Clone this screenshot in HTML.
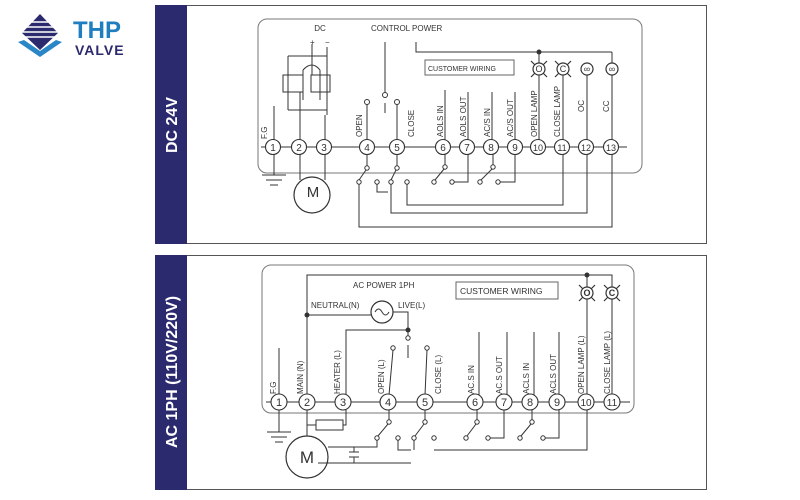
<!DOCTYPE html>
<html><head><meta charset="utf-8"><style>
html,body{margin:0;padding:0;background:#fff;}
svg{display:block;font-family:"Liberation Sans",sans-serif;}
</style></head><body>
<svg width="800" height="500" viewBox="0 0 800 500" xmlns="http://www.w3.org/2000/svg">
<rect width="800" height="500" fill="#fff"/>
<!-- logo -->
<g>
<polygon points="40,14 58,33 40,50 22,33" fill="#2c2a6e"/>
<g stroke="#fff" stroke-width="1.6">
<line x1="28" y1="22" x2="52" y2="22"/><line x1="24" y1="27" x2="56" y2="27"/><line x1="22" y1="32" x2="58" y2="32"/><line x1="24" y1="37" x2="56" y2="37"/>
</g>
<polygon points="18,42 40,57 62,42 56,40 40,51 24,40" fill="#2a86c6"/>
<text x="73" y="38" font-size="24" font-weight="bold" fill="#1f7ec0">THP</text>
<text x="75" y="55" font-size="14" font-weight="bold" fill="#2c2a6e" letter-spacing="1">VALVE</text>
</g>

<g fill="none" stroke="#333" stroke-width="1">
<rect x="155.5" y="5.5" width="551" height="238" stroke="#555"/>
<rect x="258" y="19" width="384" height="154" rx="9" stroke="#777"/>
<rect x="155.5" y="255.5" width="551" height="234" stroke="#555"/>
<rect x="262" y="265" width="372" height="148" rx="9" stroke="#777"/>
</g>
<rect x="155" y="5" width="32" height="239" fill="#2c2a6e"/>
<rect x="155" y="255" width="32" height="235" fill="#2c2a6e"/>
<text transform="translate(177,125) rotate(-90)" text-anchor="middle" font-size="16" font-weight="bold" fill="#fff">DC 24V</text>
<text transform="translate(177,372) rotate(-90)" text-anchor="middle" font-size="16" font-weight="bold" fill="#fff">AC 1PH (110V/220V)</text>

<!-- ===== panel 1 diagram ===== -->
<g fill="none" stroke="#333" stroke-width="1">
<line x1="261" y1="147" x2="627" y2="147"/>
<line x1="274" y1="106" x2="274" y2="140"/>
<line x1="445" y1="90" x2="445" y2="140"/><line x1="468" y1="92" x2="468" y2="140"/>
<line x1="492" y1="92" x2="492" y2="140"/><line x1="515" y1="92" x2="515" y2="140"/>
<line x1="312" y1="44" x2="312" y2="75"/><line x1="327" y1="47" x2="327" y2="115"/>
<line x1="288" y1="56" x2="327" y2="56"/><line x1="288" y1="56" x2="288" y2="110"/>
<rect x="283" y="75" width="20" height="17"/><rect x="311" y="75" width="19" height="17"/>
<line x1="300" y1="92" x2="300" y2="140"/><line x1="288" y1="110" x2="327" y2="110"/>
<path d="M303 70 Q312 60 320 70"/><line x1="320" y1="70" x2="320" y2="100"/><line x1="303" y1="70" x2="303" y2="100"/>
<line x1="325" y1="115" x2="325" y2="140"/>
<line x1="385" y1="42" x2="385" y2="92"/><circle cx="385" cy="95" r="2.5"/><line x1="385" y1="103" x2="385" y2="113"/>
<line x1="367" y1="104" x2="367" y2="140"/><circle cx="367" cy="102" r="2.5"/>
<line x1="397" y1="104" x2="397" y2="140"/><circle cx="397" cy="102" r="2.5"/>
<polyline points="416,42 416,52 612,52"/>
<line x1="539" y1="52" x2="539" y2="63"/><line x1="612" y1="52" x2="612" y2="63"/>
<rect x="425" y="60" width="89" height="15" stroke="#666"/>
<g stroke-width="1.2">
<circle cx="539" cy="69" r="6"/><circle cx="563" cy="69" r="6"/><circle cx="587" cy="69" r="6"/><circle cx="612" cy="69" r="6"/>
<path d="M531 61 L535 65 M547 61 L543 65 M531 77 L535 73 M547 77 L543 73 M555 61 L559 65 M571 61 L567 65 M555 77 L559 73 M571 77 L567 73"/>
</g>
<line x1="539" y1="75" x2="539" y2="140"/><line x1="563" y1="75" x2="563" y2="140"/>
<line x1="587" y1="75" x2="587" y2="140"/><line x1="612" y1="75" x2="612" y2="140"/>
<line x1="274" y1="154" x2="274" y2="175"/>
<line x1="262" y1="175" x2="286" y2="175"/><line x1="266" y1="180" x2="282" y2="180"/><line x1="270" y1="185" x2="278" y2="185"/>
<line x1="300" y1="154" x2="300" y2="180"/><line x1="325" y1="154" x2="325" y2="180"/>
<circle cx="312" cy="195" r="18" stroke-width="1.2"/>
<line x1="367" y1="154" x2="367" y2="166"/><circle cx="367" cy="168" r="2.2"/><line x1="366" y1="170" x2="359" y2="180"/>
<line x1="397" y1="154" x2="397" y2="166"/><circle cx="397" cy="168" r="2.2"/><line x1="396" y1="170" x2="391" y2="180"/>
<circle cx="359" cy="182" r="2.2"/><circle cx="377" cy="182" r="2.2"/><circle cx="391" cy="182" r="2.2"/><circle cx="407" cy="182" r="2.2"/>
<line x1="445" y1="154" x2="445" y2="165"/><circle cx="445" cy="167" r="2.2"/><line x1="444" y1="169" x2="435" y2="180"/><circle cx="434" cy="182" r="2.2"/>
<circle cx="452" cy="182" r="2.2"/><polyline points="454,182 468,182 468,154"/>
<line x1="493" y1="154" x2="493" y2="165"/><circle cx="493" cy="167" r="2.2"/><line x1="492" y1="169" x2="481" y2="180"/><circle cx="480" cy="182" r="2.2"/>
<circle cx="498" cy="182" r="2.2"/><polyline points="500,182 515,182 515,154"/>
<polyline points="377,184 377,192 388,192 Q391,198 394,192 539,192 539,154"/>
<polyline points="407,184 407,205 563,205 563,154"/>
<polyline points="391,184 391,213 587,213 587,154"/>
<polyline points="359,184 359,227 612,227 612,154"/>
</g>
<circle cx="539" cy="52" r="2.5" fill="#333"/>
<g font-size="9" fill="#333" text-anchor="middle">
<text x="539" y="72">O</text><text x="563" y="72">C</text><text x="587" y="72">∞</text><text x="612" y="72">∞</text>
</g>
<g fill="#fff" stroke="#333" stroke-width="1.1">
<circle cx="273" cy="147" r="7.5"/><circle cx="299" cy="147" r="7.5"/><circle cx="324" cy="147" r="7.5"/>
<circle cx="367" cy="147" r="7.5"/><circle cx="397" cy="147" r="7.5"/><circle cx="443" cy="147" r="7.5"/>
<circle cx="467" cy="147" r="7.5"/><circle cx="491" cy="147" r="7.5"/><circle cx="515" cy="147" r="7.5"/>
<circle cx="538" cy="147" r="7.5"/><circle cx="562" cy="147" r="7.5"/><circle cx="586" cy="147" r="7.5"/><circle cx="611" cy="147" r="7.5"/>
</g>
<g font-size="10" fill="#333" text-anchor="middle">
<text x="273" y="151">1</text><text x="299" y="151">2</text><text x="324" y="151">3</text><text x="367" y="151">4</text><text x="397" y="151">5</text><text x="443" y="151">6</text><text x="467" y="151">7</text><text x="491" y="151">8</text><text x="515" y="151">9</text>
<text x="538" y="151" font-size="9">10</text><text x="562" y="151" font-size="9">11</text><text x="586" y="151" font-size="9">12</text><text x="611" y="151" font-size="9">13</text>
<text x="313" y="197" font-size="15">M</text>
</g>
<g font-size="8" fill="#333">
<text x="320" y="31" text-anchor="middle">DC</text>
<text x="371" y="31">CONTROL POWER</text>
<text x="310" y="45" font-size="8">+</text><text x="325" y="45">−</text>
<text x="428" y="71" font-size="7">CUSTOMER WIRING</text>
<text transform="translate(267,139) rotate(-90)">F.G</text>
<text transform="translate(362,137) rotate(-90)">OPEN</text>
<text transform="translate(414,137) rotate(-90)">CLOSE</text>
<text transform="translate(443,137) rotate(-90)">AOLS IN</text>
<text transform="translate(466,137) rotate(-90)">AOLS OUT</text>
<text transform="translate(490,137) rotate(-90)">AC/S IN</text>
<text transform="translate(513,137) rotate(-90)">AC/S OUT</text>
<text transform="translate(537,137) rotate(-90)">OPEN LAMP</text>
<text transform="translate(560,137) rotate(-90)">CLOSE LAMP</text>
<text transform="translate(584,112) rotate(-90)">OC</text>
<text transform="translate(609,112) rotate(-90)">CC</text>
</g>

<!-- ===== panel 2 diagram ===== -->
<g fill="none" stroke="#333" stroke-width="1">
<line x1="266" y1="402" x2="630" y2="402"/>
<line x1="279" y1="348" x2="279" y2="395"/>
<polyline points="307,395 307,275 612,275 612,287"/>
<line x1="587" y1="275" x2="587" y2="287"/>
<circle cx="587" cy="293" r="6" stroke-width="1.2"/><circle cx="612" cy="293" r="6" stroke-width="1.2"/>
<path d="M579 285 L583 289 M595 285 L591 289 M579 301 L583 297 M595 301 L591 297 M604 285 L608 289 M620 285 L616 289 M604 301 L608 297 M620 301 L616 297" stroke-width="1.2"/>
<line x1="587" y1="299" x2="587" y2="395"/><line x1="612" y1="299" x2="612" y2="395"/>
<line x1="307" y1="315" x2="371" y2="315"/>
<circle cx="382" cy="312" r="11" stroke-width="1.2"/>
<path d="M375 312 Q378.5 306 382 312 T389 312"/>
<polyline points="393,312 408,312 408,330"/>
<polyline points="408,330 346,330 346,395"/>
<line x1="408" y1="330" x2="408" y2="336"/><circle cx="408" cy="338" r="2.2"/><line x1="408" y1="345" x2="408" y2="358"/>
<rect x="456" y="282" width="102" height="17" stroke="#666"/>
<circle cx="393" cy="348" r="2.2"/><line x1="393" y1="350" x2="389" y2="395" />
<circle cx="427" cy="348" r="2.2"/><line x1="427" y1="350" x2="425" y2="395"/>
<line x1="479" y1="332" x2="479" y2="395"/><line x1="507" y1="332" x2="507" y2="395"/>
<line x1="534" y1="332" x2="534" y2="395"/><line x1="559" y1="332" x2="559" y2="395"/>
<line x1="279" y1="409" x2="279" y2="432"/>
<line x1="267" y1="432" x2="291" y2="432"/><line x1="271" y1="437" x2="287" y2="437"/><line x1="275" y1="442" x2="283" y2="442"/>
<line x1="307" y1="409" x2="307" y2="436"/>
<polyline points="307,425 316,425"/><rect x="316" y="420" width="27" height="10"/><polyline points="343,425 346,425 346,409"/>
<circle cx="307" cy="457" r="21" stroke-width="1.2"/>
<line x1="389" y1="409" x2="389" y2="420"/><circle cx="389" cy="422" r="2.2"/><line x1="388" y1="424" x2="378" y2="436"/>
<line x1="425" y1="409" x2="425" y2="420"/><circle cx="425" cy="422" r="2.2"/><line x1="424" y1="424" x2="415" y2="436"/>
<circle cx="377" cy="438" r="2.2"/><circle cx="398" cy="438" r="2.2"/><circle cx="414" cy="438" r="2.2"/><circle cx="434" cy="438" r="2.2"/>
<polyline points="328,447 377,447 377,440"/>
<line x1="354" y1="447" x2="354" y2="452"/><line x1="349" y1="452" x2="359" y2="452"/><line x1="349" y1="457" x2="359" y2="457"/><line x1="354" y1="457" x2="354" y2="463"/>
<polyline points="398,440 398,450 411,450 Q414,456 417,450 434,450 434,440"/>
<polyline points="414,440 414,450"/>
<polyline points="434,450 587,450 587,409"/>
<polyline points="318,463 411,463 Q414,469 417,463 431,463 Q434,469 437,463 614,463 614,409"/>
<line x1="477" y1="409" x2="477" y2="420"/><circle cx="477" cy="422" r="2.2"/><line x1="476" y1="424" x2="467" y2="436"/><circle cx="466" cy="438" r="2.2"/>
<circle cx="488" cy="438" r="2.2"/><polyline points="490,438 504,438 504,409"/>
<line x1="532" y1="409" x2="532" y2="420"/><circle cx="532" cy="422" r="2.2"/><line x1="531" y1="424" x2="521" y2="436"/><circle cx="520" cy="438" r="2.2"/>
<circle cx="543" cy="438" r="2.2"/><polyline points="545,438 559,438 559,409"/>
</g>
<g font-size="9" fill="#333" text-anchor="middle" font-weight="bold">
<text x="587" y="296">O</text><text x="612" y="296">C</text>
</g>
<circle cx="587" cy="275" r="2.5" fill="#333"/><circle cx="307" cy="315" r="2.5" fill="#333"/><circle cx="408" cy="330" r="2.5" fill="#333"/>
<g fill="#fff" stroke="#333" stroke-width="1.1">
<circle cx="279" cy="402" r="8"/><circle cx="307" cy="402" r="8"/><circle cx="343" cy="402" r="8"/><circle cx="388" cy="402" r="8"/>
<circle cx="425" cy="402" r="8"/><circle cx="475" cy="402" r="8"/><circle cx="504" cy="402" r="8"/><circle cx="530" cy="402" r="8"/>
<circle cx="557" cy="402" r="8"/><circle cx="586" cy="402" r="8"/><circle cx="612" cy="402" r="8"/>
</g>
<g font-size="11" fill="#333" text-anchor="middle">
<text x="279" y="406">1</text><text x="307" y="406">2</text><text x="343" y="406">3</text><text x="388" y="406">4</text><text x="425" y="406">5</text><text x="475" y="406">6</text><text x="504" y="406">7</text><text x="530" y="406">8</text><text x="557" y="406">9</text>
<text x="586" y="406" font-size="10">10</text><text x="612" y="406" font-size="10">11</text>
<text x="307" y="463" font-size="17">M</text>
</g>
<g font-size="8" fill="#333">
<text x="353" y="288">AC POWER 1PH</text>
<text x="311" y="308">NEUTRAL(N)</text>
<text x="398" y="308">LIVE(L)</text>
<text x="460" y="294" font-size="8.5">CUSTOMER WIRING</text>
<text transform="translate(276,394) rotate(-90)">F.G</text>
<text transform="translate(303,394) rotate(-90)">MAIN (N)</text>
<text transform="translate(340,394) rotate(-90)">HEATER (L)</text>
<text transform="translate(384,394) rotate(-90)">OPEN (L)</text>
<text transform="translate(441,394) rotate(-90)">CLOSE (L)</text>
<text transform="translate(474,394) rotate(-90)">AC.S IN</text>
<text transform="translate(502,394) rotate(-90)">AC.S OUT</text>
<text transform="translate(529,394) rotate(-90)">ACLS IN</text>
<text transform="translate(556,394) rotate(-90)">ACLS OUT</text>
<text transform="translate(584,394) rotate(-90)">OPEN LAMP (L)</text>
<text transform="translate(610,394) rotate(-90)">CLOSE LAMP (L)</text>
</g>
</svg>
</body></html>
